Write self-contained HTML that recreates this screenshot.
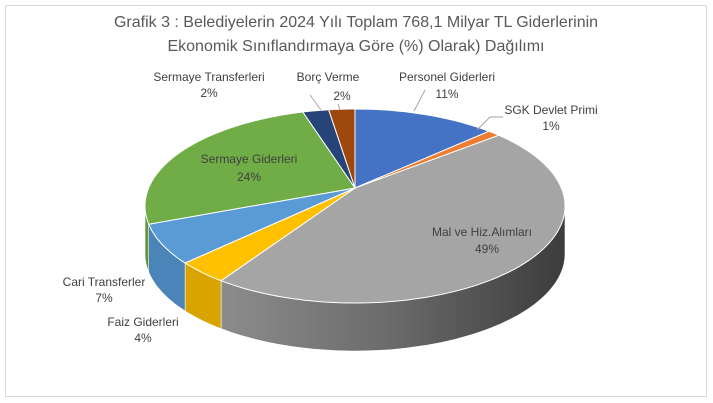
<!DOCTYPE html>
<html><head><meta charset="utf-8"><style>
html,body{margin:0;padding:0;background:#fff;}
svg{display:block;font-family:"Liberation Sans",sans-serif;}
</style></head><body>
<svg id="s" width="713" height="403" viewBox="0 0 713 403">
<defs>
<linearGradient id="gg" x1="0" x2="1" y1="0" y2="0">
<stop offset="0" stop-color="#8c8c8c"/><stop offset="0.5" stop-color="#6a6a6a"/><stop offset="1" stop-color="#3c3c3c"/>
</linearGradient>
</defs>
<rect x="5.5" y="5.5" width="701" height="391" fill="#fff" stroke="#d9d9d9"/>
<g id="pie"></g>
<g fill="#595959" text-anchor="middle">
<text x="356" y="27" font-size="16">Grafik 3 : Belediyelerin 2024 Yılı Toplam 768,1 Milyar  TL  Giderlerinin</text>
<text x="356" y="51" font-size="16">Ekonomik Sınıflandırmaya Göre (%)  Olarak) Dağılımı</text>
<g font-size="12" fill="#404040">
<text x="447" y="81">Personel Giderleri</text><text x="447" y="98">11%</text>
<text x="551" y="114">SGK Devlet Primi</text><text x="551" y="130">1%</text>
<text x="482" y="236">Mal ve Hiz.Alımları</text><text x="487" y="253">49%</text>
<text x="249" y="163">Sermaye Giderleri</text><text x="249" y="181">24%</text>
<text x="209" y="81">Sermaye Transferleri</text><text x="209" y="97">2%</text>
<text x="328" y="81">Borç Verme</text><text x="342" y="100">2%</text>
<text x="104" y="286">Cari Transferler</text><text x="104" y="302">7%</text>
<text x="143" y="326">Faiz Giderleri</text><text x="143" y="342">4%</text>
</g></g>
<g stroke="#a6a6a6" fill="none" stroke-width="1">
<polyline points="414,111 425,90"/>
<polyline points="477,130 490,117 503,117"/>
<polyline points="321,110 310,95"/>
<polyline points="340,110 338,104"/>
</g>
</svg>
<script>
var cx=355,cy=206,rx=210,ry=97,ax=355,ay=188,D=48;
var sl=[[11,"#4472c4","#3a62a8"],[1,"#ed7d31","#c96a29"],[49,"#a5a5a5","url(#gg)"],[4,"#ffc000","#d9a300"],[7,"#5b9bd5","#4a84b8"],[24,"#70ad47","#5f9340"],[2,"#264478","#1f3862"],[2,"#9e480e","#853c0b"]];
function P(a,d){a=a*Math.PI/180;return [cx+rx*Math.sin(a),cy-ry*Math.cos(a)+(d||0)];}
var g=document.getElementById("pie");
function arc(a0,a1,d){var s="",n=Math.max(2,Math.ceil(Math.abs(a1-a0)/2));for(var i=0;i<=n;i++){var p=P(a0+(a1-a0)*i/n,d);s+=(i?" L":"M")+p[0].toFixed(1)+","+p[1].toFixed(1);}return s;}
var a=0,sides=[],tops=[];
sl.forEach(function(s){var a0=a,a1=a+s[0]*3.6;a=a1;
var b0=Math.max(a0,90),b1=Math.min(a1,270);
if(b1>b0){var up=arc(b0,b1,0),dn=arc(b1,b0,D).replace("M"," L");sides.push('<path d="'+up+dn+'Z" fill="'+s[2]+'" stroke="#fff" stroke-width="0.6"/>');}
tops.push('<path d="M'+ax+','+ay+' '+arc(a0,a1,0).replace("M","L")+'Z" fill="'+s[1]+'" stroke="#fff" stroke-width="1"/>');});
g.innerHTML=sides.join("")+tops.join("");
</script>
</body></html>
